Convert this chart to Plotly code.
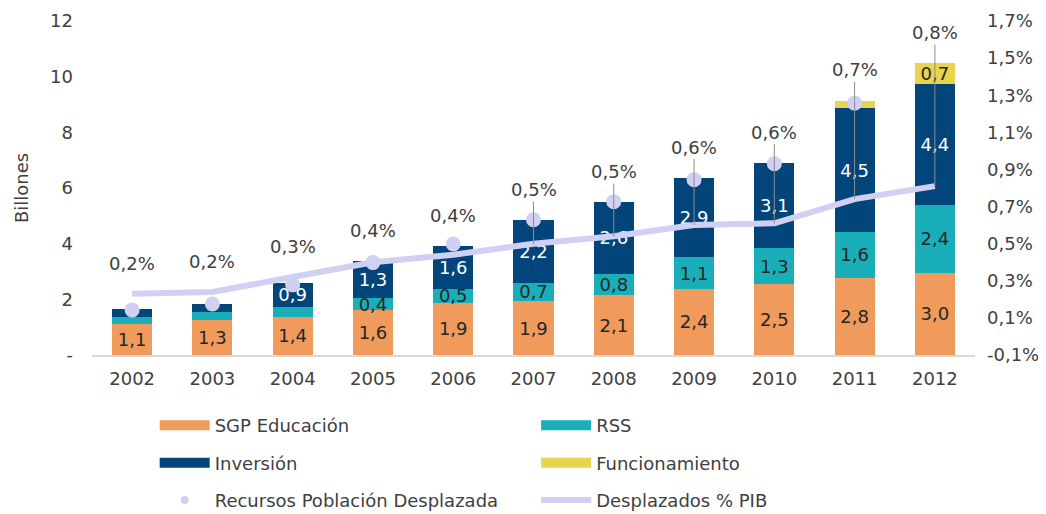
import plotly.graph_objects as go

years = ["2002", "2003", "2004", "2005", "2006", "2007", "2008", "2009", "2010", "2011", "2012"]
sgp_educacion = [1.1, 1.27, 1.37, 1.6, 1.88, 1.94, 2.14, 2.38, 2.54, 2.78, 2.96]
rss = [0.25, 0.28, 0.35, 0.44, 0.49, 0.66, 0.78, 1.13, 1.29, 1.63, 2.42]
inversion = [0.32, 0.29, 0.88, 1.33, 1.56, 2.24, 2.57, 2.86, 3.08, 4.46, 4.36]
funcionamiento = [0, 0, 0, 0, 0, 0, 0, 0, 0, 0.27, 0.74]
recursos_desplazada = [1.62, 1.83, 2.52, 3.32, 3.99, 4.86, 5.51, 6.30, 6.87, 9.05, None]
desplazados_pib = [0.23, 0.24, 0.32, 0.40, 0.44, 0.50, 0.54, 0.60, 0.61, 0.74, 0.81]

left_ticks = [0, 2, 4, 6, 8, 10, 12]
left_ticktext = ["-", "2", "4", "6", "8", "10", "12"]
right_ticks = [-0.1, 0.1, 0.3, 0.5, 0.7, 0.9, 1.1, 1.3, 1.5, 1.7]

ORANGE = "#F09A5B"
TEAL = "#1AAEB8"
NAVY = "#01457A"
YELLOW = "#E8D44F"
LAVENDER = "#D0D0F4"
FONT = "DejaVu Sans"
TXT = "#404040"
FS = 18

Y_RANGE = [0, 12]
Y2_RANGE = [-0.1, 1.7]


def fmt(v):
    return f"{v:.1f}".replace(".", ",")


def seg_text(vals):
    return [fmt(v) if v >= 0.4 else "" for v in vals]


fig = go.Figure()

bars = [
    ("SGP Educación", sgp_educacion, ORANGE, "#262626", "legend"),
    ("RSS", rss, TEAL, "#262626", "legend2"),
    ("Inversión", inversion, NAVY, "white", "legend"),
    ("Funcionamiento", funcionamiento, YELLOW, "#262626", "legend2"),
]
for name, vals, color, tcolor, lg in bars:
    fig.add_trace(go.Bar(
        x=years, y=vals, name=name, marker=dict(color=color, line=dict(width=0)),
        text=seg_text(vals), textposition="inside", insidetextanchor="middle",
        textangle=0, textfont=dict(color=tcolor, size=FS, family=FONT),
        showlegend=False, hoverinfo="skip",
    ))
    # legend proxy drawn as a wide swatch
    fig.add_trace(go.Scatter(
        x=[None], y=[None], mode="lines", name=name,
        line=dict(color=color, width=12), legend=lg, legendgroup=name,
    ))

fig.add_trace(go.Scatter(
    x=years, y=desplazados_pib, yaxis="y2", mode="lines", name="Desplazados % PIB",
    line=dict(color=LAVENDER, width=6), legend="legend2", legendgroup="pib",
))
fig.add_trace(go.Scatter(
    x=years, y=recursos_desplazada, mode="markers", name="Recursos Población Desplazada",
    marker=dict(color=LAVENDER, size=15), showlegend=False,
))
fig.add_trace(go.Scatter(
    x=[None], y=[None], mode="markers", name="Recursos Población Desplazada",
    marker=dict(color=LAVENDER, size=8), legend="legend", legendgroup="rec",
))

# percentage labels, with leader lines to the line points when far away
# (annotation x uses the category index: numeric-looking strings would be read as positions)
scale = (Y_RANGE[1] - Y_RANGE[0]) / (Y2_RANGE[1] - Y2_RANGE[0])
for i, yr in enumerate(years):
    total = sgp_educacion[i] + rss[i] + inversion[i] + funcionamiento[i]
    line_y = (desplazados_pib[i] - Y2_RANGE[0]) * scale
    label_y = max(total, line_y) + 1.1
    label = fmt(desplazados_pib[i]) + "%"
    if label_y - line_y > 1.5:
        fig.add_annotation(
            x=i, y=line_y, xref="x", yref="y", ax=0, ay=label_y, axref="pixel", ayref="y",
            text=label, showarrow=True, arrowhead=0, arrowwidth=1, arrowcolor="#8C8C8C",
            font=dict(size=FS, color=TXT, family=FONT),
        )
    else:
        fig.add_annotation(
            x=i, y=label_y, xref="x", yref="y", text=label, showarrow=False,
            font=dict(size=FS, color=TXT, family=FONT),
        )

# the page body adds an 8px margin, so the figure is sized to stay inside the window
fig.update_layout(
    barmode="stack",
    bargap=0.5,
    width=1038,
    height=506,
    margin=dict(l=84, r=71, t=13, b=159, autoexpand=False),
    plot_bgcolor="white",
    paper_bgcolor="white",
    separators=",.",
    font=dict(family=FONT, size=FS, color=TXT),
    uniformtext=dict(minsize=FS, mode="show"),
    xaxis=dict(
        type="category", range=[-0.5, len(years) - 0.5], showline=True,
        linecolor="#D9D9D9", linewidth=2, ticks="", ticklabelstandoff=6,
        tickfont=dict(size=FS, color=TXT),
    ),
    yaxis=dict(
        range=Y_RANGE, tickvals=left_ticks, ticktext=left_ticktext, showgrid=False,
        zeroline=False, showline=False, ticks="", ticklabelstandoff=18,
        tickfont=dict(size=FS, color=TXT),
        title=dict(text="Billones", font=dict(size=FS, color=TXT), standoff=16),
    ),
    yaxis2=dict(
        range=Y2_RANGE, tickvals=right_ticks,
        ticktext=[fmt(v) + "%" for v in right_ticks],
        overlaying="y", side="right", showgrid=False, zeroline=False, ticks="",
        ticklabelstandoff=11, tickfont=dict(size=FS, color=TXT),
    ),
    legend=dict(
        x=0.071, y=-0.156, xanchor="left", yanchor="top", orientation="v",
        tracegroupgap=11, itemwidth=50,
        font=dict(size=FS, color=TXT), bgcolor="rgba(0,0,0,0)",
    ),
    legend2=dict(
        x=0.503, y=-0.156, xanchor="left", yanchor="top", orientation="v",
        tracegroupgap=11, itemwidth=50, font=dict(size=FS, color=TXT),
        bgcolor="rgba(0,0,0,0)",
    ),
    showlegend=True,
)

fig.write_html("out.html")
